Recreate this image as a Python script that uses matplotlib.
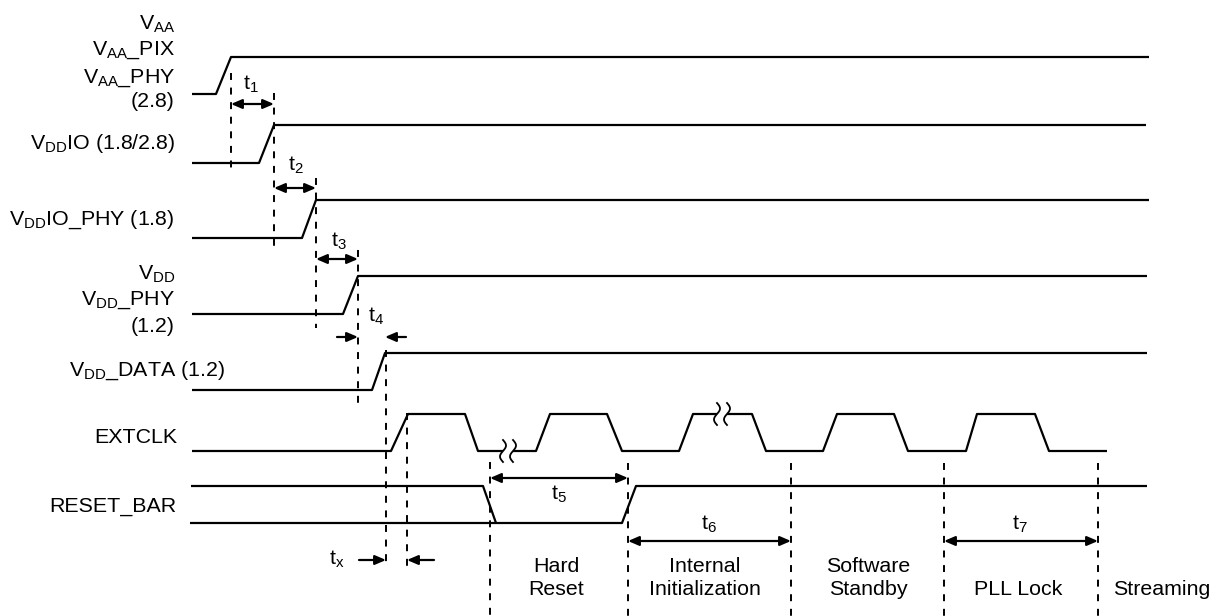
import numpy as np
import matplotlib
matplotlib.use('Agg')
import matplotlib.pyplot as plt
from matplotlib.patches import FancyArrowPatch

plt.rcParams['font.family'] = ['Liberation Sans', 'DejaVu Sans']
plt.rcParams['mathtext.fontset'] = 'custom'
plt.rcParams['mathtext.rm'] = 'Liberation Sans'
plt.rcParams['mathtext.it'] = 'Liberation Sans:italic'
plt.rcParams['lines.scale_dashes'] = False

### power rails (x in pixels of the timing axis, y = level)
rail_begin = 192
rail_low = [94, 163, 238, 314, 390]
rail_high = [57, 125, 200, 276, 353]
rail_rise_start = [216, 259, 302, 343, 372]
rail_rise_end = [231, 274, 316, 358, 385]
rail_end = [1149, 1146, 1149, 1147, 1147]

### clock
clk_low, clk_high = 451, 414
clk_begin, clk_end = 192, 1107
clk_edges = [391, 408, 465, 478, 536, 550, 607, 622, 679, 693,
             752, 766, 823, 837, 894, 908, 966, 977, 1035, 1049]
clk_breaks = [508, 722]

### reset
rst_high, rst_low = 486, 523
rst_begin, rst_end = 191, 1147
rst_fall = [483, 496]
rst_rise = [622, 636]

### dashed markers
dash_x = [231, 274, 316, 358, 386, 407, 490, 628, 791, 944, 1098]
dash_top = [73, 93, 178, 250, 350, 413, 462, 463, 463, 463, 463]
dash_bottom = [175, 248, 328, 408, 568, 568, 616, 616, 616, 616, 616]

### timing arrows
span_names = ['1', '2', '3', '5', '6', '7']
span_from = [231, 274, 316, 490, 628, 944]
span_to = [274, 316, 358, 628, 791, 1098]
span_y = [104, 188, 259, 478, 541, 541]
span_label_x = [251, 296, 339, 559, 709, 1020]
span_label_y = [90, 171, 247, 500, 530, 530]

gap_names = ['4', r'\mathrm{x}']
gap_left = [358, 386]
gap_right = [385, 407]
gap_y = [337, 560]
gap_tail = [21, 27]
gap_label_x = [376, 337]
gap_label_y = [322, 565]

### labels
sig_labels = [r'V$_{\mathrm{AA}}$', r'V$_{\mathrm{AA}}$_PIX', r'V$_{\mathrm{AA}}$_PHY', '(2.8)',
              r'V$_{\mathrm{DD}}$IO (1.8/2.8)', r'V$_{\mathrm{DD}}$IO_PHY (1.8)',
              r'V$_{\mathrm{DD}}$', r'V$_{\mathrm{DD}}$_PHY', '(1.2)',
              r'V$_{\mathrm{DD}}$_DATA (1.2)', 'EXTCLK', 'RESET_BAR']
sig_label_x = [175, 175, 175, 175, 175, 175, 175, 175, 175, 225, 177, 176]
sig_label_y = [30, 55, 83, 107, 149, 225, 280, 305, 332, 376, 443, 512]

phase_top = ['Hard', 'Internal', 'Software', '', '']
phase_bottom = ['Reset', 'Initialization', 'Standby', 'PLL Lock', 'Streaming']
phase_x = [556, 705, 868, 1018, 1113]

LW = 1.6
FS = 15.4


def add_break(xs, ys, xb, half=5):
    # cut a horizontal run at xb so the break symbol sits in the gap
    out_x, out_y = [], []
    for i in range(len(xs) - 1):
        out_x.append(xs[i])
        out_y.append(ys[i])
        if xs[i] < xb < xs[i + 1] and ys[i] == ys[i + 1]:
            out_x += [xb - half, np.nan, xb + half]
            out_y += [ys[i], np.nan, ys[i]]
    out_x.append(xs[-1])
    out_y.append(ys[-1])
    return out_x, out_y


def squiggle(ax, xc, yc, half=5):
    t = np.linspace(0, 1, 40)
    for dx in (-half, half):
        ax.plot(xc + dx + 3 * np.sin(2 * np.pi * t), yc - 11 + 22 * t, color='black', lw=1.3)


fig = plt.figure(figsize=(12.12, 6.16), dpi=100)
ax = fig.add_axes([0, 0, 1, 1])
ax.set_xlim(0, 1212)
ax.set_ylim(616, 0)
ax.axis('off')

# rails
for i in range(len(rail_low)):
    xs = [rail_begin, rail_rise_start[i], rail_rise_end[i], rail_end[i]]
    ys = [rail_low[i], rail_low[i], rail_high[i], rail_high[i]]
    ax.plot(xs, ys, color='black', lw=LW, solid_capstyle='butt')

# clock
xs, ys = [clk_begin], [clk_low]
level = clk_low
for k in range(0, len(clk_edges), 2):
    other = clk_high if level == clk_low else clk_low
    xs += [clk_edges[k], clk_edges[k + 1]]
    ys += [level, other]
    level = other
xs.append(clk_end)
ys.append(level)
break_levels = []
for xb in clk_breaks:
    for i in range(len(xs) - 1):
        if xs[i] < xb < xs[i + 1]:
            break_levels.append(ys[i])
for xb in clk_breaks:
    xs, ys = add_break(xs, ys, xb)
ax.plot(xs, ys, color='black', lw=LW, solid_capstyle='butt')
for xb, yb in zip(clk_breaks, break_levels):
    squiggle(ax, xb, yb)

# reset
ax.plot([rst_begin, rst_fall[0], rst_fall[1]], [rst_high, rst_high, rst_low],
        color='black', lw=LW, solid_capstyle='butt')
ax.plot([rst_begin - 1, rst_rise[0], rst_rise[1], rst_end], [rst_low, rst_low, rst_high, rst_high],
        color='black', lw=LW, solid_capstyle='butt')

# dashed markers
for x, y0, y1 in zip(dash_x, dash_top, dash_bottom):
    ax.plot([x, x], [y0, y1], color='black', lw=1.4, dashes=(5, 5.5))

# spans
for n, a, b, y, lx, ly in zip(span_names, span_from, span_to, span_y, span_label_x, span_label_y):
    ax.add_patch(FancyArrowPatch((a, y), (b, y), arrowstyle='<|-|>,head_length=6.5,head_width=2.8',
                                 mutation_scale=1, color='black', lw=LW, shrinkA=0, shrinkB=0))
    ax.text(lx, ly, r't$_{%s}$' % n, fontsize=FS, ha='center', va='baseline')

for n, a, b, y, tail, lx, ly in zip(gap_names, gap_left, gap_right, gap_y, gap_tail, gap_label_x, gap_label_y):
    ax.add_patch(FancyArrowPatch((a - tail, y), (a, y), arrowstyle='-|>,head_length=6.5,head_width=2.8',
                                 mutation_scale=1, color='black', lw=LW, shrinkA=0, shrinkB=0))
    ax.add_patch(FancyArrowPatch((b + tail, y), (b, y), arrowstyle='-|>,head_length=6.5,head_width=2.8',
                                 mutation_scale=1, color='black', lw=LW, shrinkA=0, shrinkB=0))
    ax.text(lx, ly, r't$_{%s}$' % n, fontsize=FS, ha='center', va='baseline')

# signal names
for s, x, y in zip(sig_labels, sig_label_x, sig_label_y):
    ax.text(x, y, s, fontsize=FS, ha='right', va='baseline')

# phases
for top, bot, x in zip(phase_top, phase_bottom, phase_x):
    ha = 'left' if bot == 'Streaming' else 'center'
    if top:
        ax.text(x, 572, top, fontsize=FS, ha=ha, va='baseline')
    ax.text(x, 595, bot, fontsize=FS, ha=ha, va='baseline')

fig.savefig('out.png', dpi=100)
